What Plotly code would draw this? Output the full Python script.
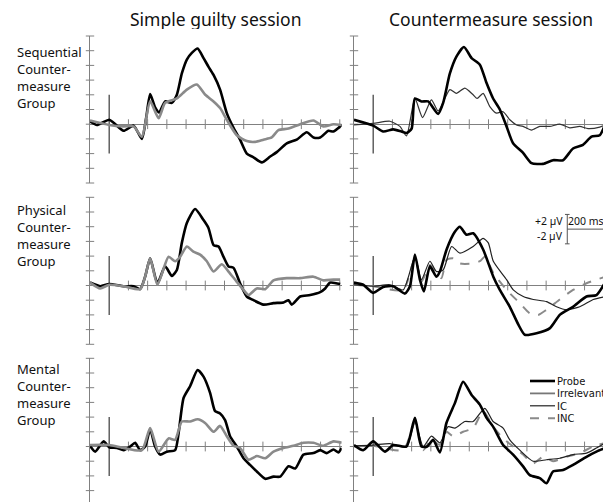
import plotly.graph_objects as go

# ---------------- data (ms, µV) ----------------
# Sequential group, simple guilty session
seq_sg_probe_t = [-100,-64,0,23,75,127,170,192,213,239,260,291,326,352,378,404,430,460,491,517,543,577,612,647,681,716,751,794,838,872,924,976,1028,1063,1098,1141,1167,1210]
seq_sg_probe_v = [0.4,-0.1,0.6,0.2,-0.9,-0.2,-2.0,0.8,4.1,2.3,1.6,3.1,2.9,4.0,6.9,8.8,9.7,10.3,9.0,7.8,6.7,4.7,1.5,-0.5,-2.1,-4.0,-4.5,-5.2,-4.4,-3.8,-2.6,-2.1,-1.1,-1.8,-1.8,-0.9,-1.0,-0.1]
seq_sg_irr_t = [-100,0,75,127,170,213,257,291,352,404,456,500,543,577,612,664,716,760,803,846,881,933,994,1063,1115,1167,1210]
seq_sg_irr_v = [0.5,-0.1,-0.3,-0.3,-1.7,3.1,0.8,2.9,3.5,4.7,5.4,4.0,3.1,2.2,0.6,-1.5,-2.3,-2.4,-2.1,-1.8,-0.8,-0.6,0.0,0.5,-0.3,0.0,-0.1]

# Sequential group, countermeasure session
seq_cm_probe_t = [-100,0,52,104,147,174,200,217,251,286,338,364,399,433,472,512,555,590,624,659,694,728,780,824,884,936,988,1040,1092,1136,1179,1209]
seq_cm_probe_v = [0.6,-0.2,-1.0,-0.7,-1.0,-1.2,-0.6,3.5,3.1,3.1,1.4,2.9,6.9,9.2,10.5,9.0,8.1,5.6,3.5,2.0,-0.3,-2.6,-3.9,-5.3,-5.4,-4.9,-4.9,-3.3,-2.8,-1.7,-1.5,0.1]
seq_cm_irr_t = [-100,0,87,139,173,217,257,303,338,399,433,477,520,541,572,607,642,676,711,746,780,824,867,919,971,1023,1075,1118,1179,1209]
seq_cm_irr_v = [-0.1,0.1,0.4,-0.3,-1.6,3.5,0.9,3.3,1.8,4.7,4.2,4.9,4.0,3.5,4.2,2.4,1.5,1.7,0.6,-0.1,-0.3,-0.8,-0.3,-0.3,0.0,-0.5,-0.3,-0.6,-0.4,-0.1]

# Physical group, simple guilty session
phy_sg_probe_t = [-100,-47,0,75,127,161,187,213,251,291,326,352,378,404,447,491,517,543,569,595,621,647,681,716,751,803,855,907,933,950,994,1046,1098,1124,1150,1202]
phy_sg_probe_v = [0.4,-0.1,0.2,-0.1,-0.1,-0.5,1.2,3.7,0.3,2.6,1.3,2.1,5.8,8.5,10.4,8.9,7.8,5.5,5.3,3.9,2.6,2.4,0.3,-1.5,-2.0,-2.6,-2.4,-2.3,-2.0,-2.6,-1.5,-1.3,-0.9,-0.4,0.4,0.2]
phy_sg_irr_t = [-100,-47,0,75,161,187,213,251,309,343,369,404,438,473,508,543,586,621,664,699,725,768,812,855,924,994,1063,1115,1167,1202]
phy_sg_irr_v = [0.4,-0.4,0.1,-0.1,-0.5,1.2,3.7,0.1,3.9,3.3,3.9,5.3,4.6,4.2,3.3,1.9,2.9,1.9,0.5,-0.6,-1.3,-0.4,-0.5,0.7,1.0,1.0,1.2,0.7,0.8,0.8]

# Physical group, countermeasure session
phy_cm_probe_t = [-100,-52,0,52,104,165,191,217,243,264,295,329,347,382,425,451,486,520,572,625,659,711,755,789,850,920,971,1040,1110,1162,1209]
phy_cm_probe_v = [0.4,0.1,-1.0,-0.2,-0.1,-1.1,-0.1,4.2,0.8,-0.8,2.6,1.2,1.9,4.9,7.3,8.0,6.9,7.1,4.9,1.2,-0.6,-2.9,-5.3,-6.7,-6.5,-5.8,-4.0,-2.9,-1.5,-1.3,0.5]
phy_cm_ic_t = [-100,0,87,156,217,251,295,329,364,408,451,520,572,599,625,694,729,781,833,902,954,1006,1075,1145,1209]
phy_cm_ic_v = [0.1,-0.1,0.1,-0.6,3.9,0.8,3.3,1.9,2.1,5.3,4.4,5.3,6.4,5.8,3.3,0.8,-0.6,-1.5,-1.9,-2.2,-2.9,-3.3,-2.9,-1.9,-1.5]
phy_cm_inc_t = [-100,0,156,217,251,295,329,355,382,417,451,520,555,581,625,694,763,815,859,902,971,1040,1110,1162,1209]
phy_cm_inc_v = [0.1,-0.1,-0.6,3.7,0.5,2.8,1.7,1.0,3.5,3.7,3.0,3.0,3.3,3.9,1.7,-0.6,-2.4,-3.8,-4.0,-3.3,-1.9,-0.6,0.3,0.8,1.2]

# Mental group, simple guilty session
men_sg_probe_t = [-100,-73,-29,0,40,75,109,135,161,187,213,239,265,300,343,361,387,421,460,491,525,551,577,603,629,664,699,733,768,812,855,890,933,968,1011,1063,1098,1132,1167,1193,1210]
men_sg_probe_v = [0.1,-0.7,0.7,-0.1,-0.2,-0.5,0.0,0.5,-0.5,0.0,2.3,0.0,-1.1,-0.7,-0.5,1.8,6.6,8.2,10.4,9.5,7.3,4.8,4.5,3.6,1.4,0.0,-1.6,-2.5,-3.4,-4.4,-4.1,-4.1,-2.7,-3.0,-1.1,-0.9,-0.5,-0.9,-0.4,-0.8,-0.2]
men_sg_irr_t = [-100,0,75,170,213,257,309,343,378,421,460,499,543,577,612,647,681,725,768,812,855,907,959,1011,1063,1115,1167,1210]
men_sg_irr_v = [0.2,0.2,-0.2,-0.5,2.5,-0.7,1.1,0.9,3.4,3.4,3.7,3.2,2.0,2.8,1.4,0.1,-0.2,-1.8,-1.3,-1.6,-0.7,-0.2,0.1,0.5,0.5,0.1,0.7,0.5]

# Mental group, countermeasure session
men_cm_probe_t = [-100,-52,0,61,104,173,217,251,281,312,347,381,425,468,512,555,590,624,676,728,780,815,867,902,936,988,1040,1110,1162,1209]
men_cm_probe_v = [0.2,-0.5,0.7,-0.7,0.2,0.0,3.9,0.0,0.0,0.9,-0.8,3.2,5.9,8.8,7.0,5.7,3.9,2.7,0.2,-1.1,-2.7,-3.9,-4.3,-5.0,-3.4,-3.2,-2.5,-1.4,-0.7,-0.2]
men_cm_ic_t = [-100,0,87,173,217,260,303,347,390,425,477,520,581,624,676,711,763,832,902,971,1040,1110,1162,1209]
men_cm_ic_v = [0.1,0.2,0.4,-0.1,3.4,0.0,1.4,0.5,2.7,2.5,3.4,3.4,5.2,3.4,2.5,0.9,-0.5,-2.0,-1.8,-1.6,-1.1,-0.9,-0.2,0.5]
men_cm_inc_t = [-100,0,156,217,260,303,347,381,416,468,520,572,624,676,728,780,832,884,936,1006,1075,1144,1209]
men_cm_inc_v = [0.0,0.1,-0.5,3.2,-0.5,0.9,0.2,2.0,1.4,2.0,2.5,4.8,2.7,1.1,0.0,-1.1,-2.3,-1.4,-2.0,-1.4,-0.9,0.0,0.5]

column_titles = ["Simple guilty session", "Countermeasure session"]
row_labels = ["Sequential<br>Counter-<br>measure<br>Group",
              "Physical<br>Counter-<br>measure<br>Group",
              "Mental<br>Counter-<br>measure<br>Group"]
legend_names = ["Probe", "Irrelevant", "IC", "INC"]
x_ticks = [100, 200, 300, 400, 500, 600, 700, 800, 900, 1000, 1100, 1200]
y_ticks = [-8, -6, -4, -2, 0, 2, 4, 6, 8, 10, 12]

# ---------------- geometry / styles ----------------
WIN_W, WIN_H = 611, 502
OFF = 8                      # default page margin of the html body
FW, FH = WIN_W - OFF, WIN_H - OFF


def pxx(px):
    return (px - OFF) / FW


def pxy(py):
    return 1 - (py - OFF) / FH


FONT = "Noto Sans"
LEG_FONT = "DejaVu Sans"
STY = {
    "probe": dict(color="#000000", width=2.6),
    "irr_sg": dict(color="#8a8a8a", width=2.6),
    "irr_cm": dict(color="#333333", width=1.2),
    "ic": dict(color="#222222", width=1.2),
    "inc": dict(color="#8a8a8a", width=2.0, dash="dash"),
}
AX_COL = "#808080"

panels = [
    (0, 0, [(seq_sg_probe_t, seq_sg_probe_v, "probe"), (seq_sg_irr_t, seq_sg_irr_v, "irr_sg")]),
    (0, 1, [(seq_cm_irr_t, seq_cm_irr_v, "irr_cm"), (seq_cm_probe_t, seq_cm_probe_v, "probe")]),
    (1, 0, [(phy_sg_probe_t, phy_sg_probe_v, "probe"), (phy_sg_irr_t, phy_sg_irr_v, "irr_sg")]),
    (1, 1, [(phy_cm_inc_t, phy_cm_inc_v, "inc"), (phy_cm_ic_t, phy_cm_ic_v, "ic"), (phy_cm_probe_t, phy_cm_probe_v, "probe")]),
    (2, 0, [(men_sg_probe_t, men_sg_probe_v, "probe"), (men_sg_irr_t, men_sg_irr_v, "irr_sg")]),
    (2, 1, [(men_cm_inc_t, men_cm_inc_v, "inc"), (men_cm_ic_t, men_cm_ic_v, "ic"), (men_cm_probe_t, men_cm_probe_v, "probe")]),
]

col_px = [(90, 341.7), (354, 605.7)]
row_px = [(36, 183), (197.3, 344.3), (358.3, 502)]
PX_PER_UV = 7.35
X_RANGE = [-100, 1210]

fig = go.Figure()
layout = dict(width=FW, height=FH, margin=dict(l=0, r=0, t=0, b=0),
              paper_bgcolor="white", plot_bgcolor="white", showlegend=False,
              font=dict(family=FONT, color="#111"))

for i, (r, c, series) in enumerate(panels):
    n = i + 1
    xa = "x" if n == 1 else f"x{n}"
    ya = "y" if n == 1 else f"y{n}"
    xk = "xaxis" if n == 1 else f"xaxis{n}"
    yk = "yaxis" if n == 1 else f"yaxis{n}"
    x0, x1 = col_px[c]
    top, bot = row_px[r]
    ymax = 12
    ymin = ymax - (bot - top) / PX_PER_UV
    layout[xk] = dict(domain=[pxx(x0), pxx(x1)], range=X_RANGE, visible=False, anchor=ya)
    layout[yk] = dict(domain=[max(0, pxy(bot)), pxy(top)], range=[ymin, ymax], anchor=xa,
                      showgrid=False, showticklabels=False, ticks="",
                      zeroline=True, zerolinecolor=AX_COL, zerolinewidth=1,
                      showline=True, linecolor=AX_COL, linewidth=1)
    yt = [v for v in y_ticks if ymin - 0.01 <= v <= ymax]
    fig.add_trace(go.Scatter(x=[X_RANGE[0]] * len(yt), y=yt, mode="markers", xaxis=xa, yaxis=ya,
                             marker=dict(symbol="line-ew", size=6, line=dict(color=AX_COL, width=1)),
                             cliponaxis=False, hoverinfo="skip"))
    fig.add_trace(go.Scatter(x=x_ticks, y=[0] * len(x_ticks), mode="markers", xaxis=xa, yaxis=ya,
                             marker=dict(symbol="line-ns", size=7, line=dict(color=AX_COL, width=1)),
                             cliponaxis=False, hoverinfo="skip"))
    # stimulus onset marker
    fig.add_trace(go.Scatter(x=[0, 0], y=[-4, 4], mode="lines", xaxis=xa, yaxis=ya,
                             line=dict(color="#555555", width=1.4), hoverinfo="skip"))
    for t, v, s in series:
        fig.add_trace(go.Scatter(x=t, y=v, mode="lines", xaxis=xa, yaxis=ya,
                                 line=dict(shape="spline", smoothing=0.6, **STY[s])))

fig.update_layout(**layout)

ann = []
for txt, cx in zip(column_titles, [216, 491]):
    ann.append(dict(text=txt, x=pxx(cx), y=pxy(18.5), xref="paper", yref="paper",
                    xanchor="center", yanchor="middle", showarrow=False, height=20, borderpad=0,
                    font=dict(size=17.5, family=FONT, color="#111")))
for txt, cy in zip(row_labels, [77.5, 235.5, 394]):
    ann.append(dict(text=txt, x=pxx(15), y=pxy(cy), xref="paper", yref="paper",
                    xanchor="left", yanchor="middle", align="left", showarrow=False,
                    font=dict(size=13, family=FONT, color="#111")))

# manual legend (bottom-right panel)
leg_styles = [STY["probe"], dict(color="#777777", width=1.8), STY["ic"], STY["inc"]]
shapes = []
for k, (name, st) in enumerate(zip(legend_names, leg_styles)):
    yy = pxy(381 + k * 12.4)
    shapes.append(dict(type="line", xref="paper", yref="paper", x0=pxx(530), x1=pxx(555),
                       y0=yy, y1=yy, line=st))
    ann.append(dict(text=name, x=pxx(555.5), y=yy, xref="paper", yref="paper",
                    xanchor="left", yanchor="middle", showarrow=False, height=12, borderpad=0,
                    font=dict(size=10, family=LEG_FONT, color="#111")))

# calibration bar in physical/countermeasure panel (x4, y4)
cal_x, cal_y = 1010, 7.67
bar = dict(color="#555555", width=1)
shapes += [
    dict(type="line", xref="x4", yref="y4", x0=cal_x, x1=cal_x, y0=cal_y - 2, y1=cal_y + 2, line=bar),
    dict(type="line", xref="x4", yref="y4", x0=cal_x - 12, x1=cal_x + 12, y0=cal_y + 2, y1=cal_y + 2, line=bar),
    dict(type="line", xref="x4", yref="y4", x0=cal_x - 12, x1=cal_x + 12, y0=cal_y - 2, y1=cal_y - 2, line=bar),
    dict(type="line", xref="x4", yref="y4", x0=cal_x, x1=cal_x + 200, y0=cal_y, y1=cal_y, line=bar),
    dict(type="line", xref="x4", yref="y4", x0=cal_x + 200, x1=cal_x + 200, y0=cal_y - 0.55, y1=cal_y + 0.55, line=bar),
]
ann += [
    dict(text="+2 µV", x=cal_x - 10, y=cal_y + 1.05, xref="x4", yref="y4", xanchor="right",
         yanchor="middle", showarrow=False, font=dict(size=10.5, family=FONT, color="#111")),
    dict(text="-2 µV", x=cal_x - 10, y=cal_y - 0.9, xref="x4", yref="y4", xanchor="right",
         yanchor="middle", showarrow=False, font=dict(size=10.5, family=FONT, color="#111")),
    dict(text="200 ms", x=cal_x + 95, y=cal_y + 1.1, xref="x4", yref="y4", xanchor="center",
         yanchor="middle", showarrow=False, font=dict(size=10.5, family=FONT, color="#111")),
]
fig.update_layout(annotations=ann, shapes=shapes)

fig.write_html("out.html")
